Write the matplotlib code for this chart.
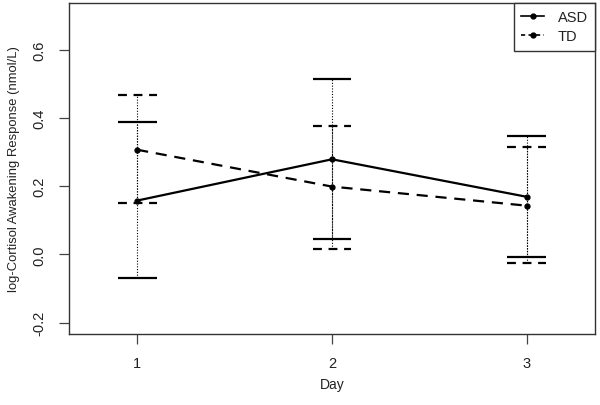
import matplotlib
matplotlib.use("Agg")
import matplotlib.pyplot as plt
from matplotlib.lines import Line2D

plt.rcParams['font.family'] = ['Liberation Sans', 'DejaVu Sans']

days = [1, 2, 3]
asd_mean = [0.158, 0.279, 0.169]
asd_upper = [0.389, 0.515, 0.348]
asd_lower = [-0.069, 0.045, -0.008]
td_mean = [0.307, 0.199, 0.143]
td_upper = [0.466, 0.378, 0.316]
td_lower = [0.150, 0.016, -0.026]

fig = plt.figure(figsize=(6.0, 4.06), dpi=100)
ax = fig.add_axes([69/600, (406-335)/406, (595-69)/600, (335-4)/406])

tc = '#222222'
cap = 0.1

# error bars: dotted verticals
for x, lo, hi in zip(days, asd_lower, asd_upper):
    ax.vlines(x, lo, hi, colors='black', linestyles=(0, (1, 1.5)), linewidth=0.8)
for x, lo, hi in zip(days, td_lower, td_upper):
    ax.vlines(x, lo, hi, colors='black', linestyles=(0, (1, 1.5)), linewidth=0.8)

# caps
for x, lo, hi in zip(days, asd_lower, asd_upper):
    ax.hlines([lo, hi], x - cap, x + cap, colors='black', linestyles='solid', linewidth=1.6)
for x, lo, hi in zip(days, td_lower, td_upper):
    ax.hlines([lo, hi], x - cap, x + cap, colors='black', linestyles=(0, (4, 3)), linewidth=1.6)

# means
ax.plot(days, asd_mean, color='black', linestyle='-', linewidth=1.6, marker='o', markersize=3.5)
ax.plot(days, td_mean, color='black', linestyle=(0, (5, 3.5)), linewidth=1.6, marker='o', markersize=3.5)

ax.set_xlim(0.65, 3.35)
ax.set_ylim(-0.233, 0.737)
ax.set_xticks(days)
ax.set_xticklabels(['1', '2', '3'])
ax.set_yticks([-0.2, 0.0, 0.2, 0.4, 0.6])
ax.set_yticklabels(['-0.2', '0.0', '0.2', '0.4', '0.6'], rotation=90, va='center')
ax.tick_params(axis='both', direction='out', length=7, width=0.9, color='#444444',
               labelsize=10.5, labelcolor=tc, pad=9)
for s in ax.spines.values():
    s.set_color('#333333')
    s.set_linewidth(1.0)

ax.set_xlabel('Day', fontsize=10, color=tc, labelpad=5)
ax.set_ylabel('log-Cortisol Awakening Response (nmol/L)', fontsize=9.4, color=tc, labelpad=9)

handles = [Line2D([], [], color='black', linestyle='-', linewidth=1.2, marker='o', markersize=3.5),
           Line2D([], [], color='black', linestyle=(0, (2.5, 2)), linewidth=1.2, marker='o', markersize=3.5)]
leg = ax.legend(handles, ['ASD', 'TD'], loc='upper right', borderaxespad=0, fancybox=False,
                edgecolor='#333333', framealpha=1, fontsize=10.5, handlelength=1.6,
                handletextpad=0.9, borderpad=0.5, labelspacing=0.35)
leg.get_frame().set_linewidth(1.0)
for t in leg.get_texts():
    t.set_color(tc)

fig.savefig('out.png', dpi=100)
